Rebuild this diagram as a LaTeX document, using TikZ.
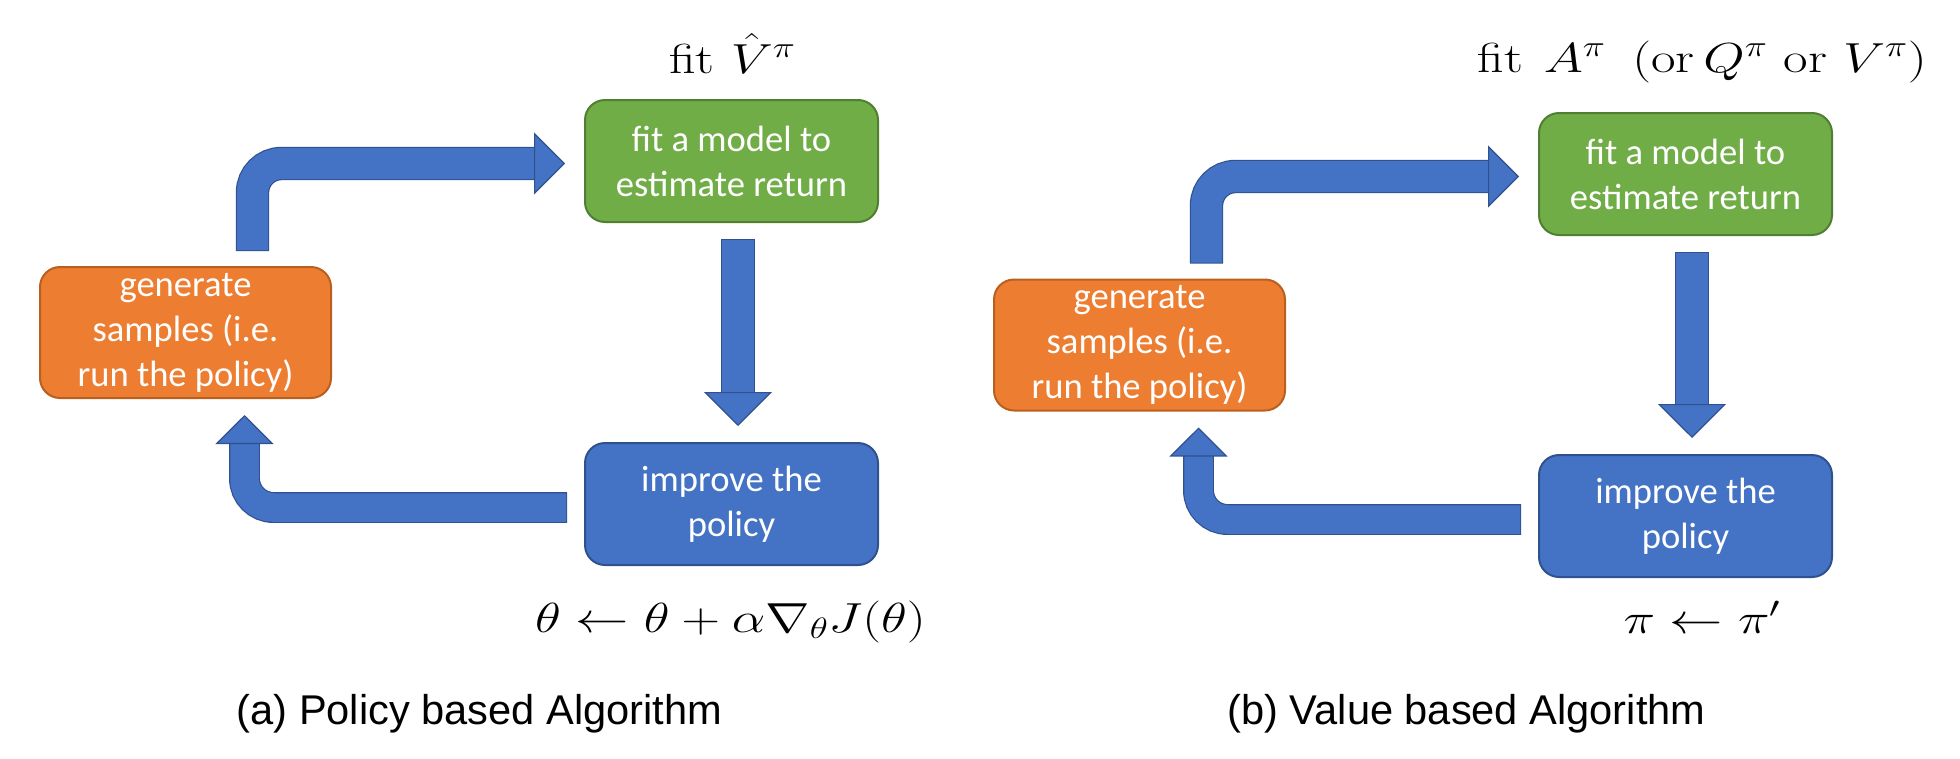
\RequirePackage{fix-cm}
\documentclass[tikz,border=0pt]{standalone}
\usepackage{amsmath}
\usepackage{fontspec}
\usepackage{graphicx}
\usetikzlibrary{arrows.meta,calc}
\newfontfamily\boxfont{Carlito}
\newfontfamily\capfont{Liberation Sans}
\definecolor{arrowblue}{HTML}{4472C4}
\definecolor{arrowborder}{HTML}{2F528F}
\definecolor{fitgreen}{HTML}{70AD47}
\definecolor{fitgreenborder}{HTML}{507E32}
\definecolor{genorange}{HTML}{ED7D31}
\definecolor{genorangeborder}{HTML}{B8601F}
\newcommand{\mstretch}[1]{\scalebox{1.27}[1]{#1}}
\tikzset{
  box/.style={rectangle, rounded corners=20pt, minimum width=293pt, minimum height=122pt,
    line width=2pt, text=white, align=center, inner sep=0pt,
    font=\boxfont\fontsize{36.6}{45}\selectfont},
  fitbox/.style={box, fill=fitgreen, draw=fitgreenborder},
  genbox/.style={box, fill=genorange, draw=genorangeborder, minimum width=291pt, minimum height=131pt},
  impbox/.style={box, fill=arrowblue, draw=arrowborder},
  mathlbl/.style={inner sep=0pt, font=\fontsize{42}{50}\selectfont},
  caplbl/.style={inner sep=0pt, font=\capfont\fontsize{41.6}{50}\selectfont},
  shaftunder/.style={draw=arrowborder, line width=#1+2.4pt, rounded corners=29pt},
  shaftfill/.style={draw=arrowblue, line width=#1, rounded corners=29pt},
  tipA/.style={-{Triangle[width=62pt,length=31pt,line width=1.2pt,color=arrowborder,fill=arrowblue]}},
  tipB/.style={-{Triangle[width=68pt,length=34pt,line width=1.2pt,color=arrowborder,fill=arrowblue]}},
  tipC/.style={-{Triangle[width=58pt,length=29pt,line width=1.2pt,color=arrowborder,fill=arrowblue]}},
}
\begin{document}
\begin{tikzpicture}[x=1pt,y=-1pt]
\useasboundingbox (0,0) rectangle (1960,758);

% ---------- (a) policy based ----------
\node[fitbox] (fitA) at (731.5,161) {fit a model to\\estimate return};
\node[genbox] (genA) at (185.5,332.5) {generate\\samples (i.e.\\run the policy)};
\node[impbox] (impA) at (731.5,504) {improve the\\policy};

\coordinate (a1s) at ($(genA.north)+(67,-16)$);
\coordinate (a1e) at ($(fitA.west)+(-19,2.5)$);
\draw[shaftunder=31pt, shorten >=30pt, shorten <=-1.2pt] (a1s) |- (a1e);
\draw[shaftfill=31pt, tipA] (a1s) |- (a1e);

\coordinate (a2s) at ($(fitA.south)+(6.5,17)$);
\coordinate (a2e) at ($(impA.north)+(6.5,-16)$);
\draw[shaftunder=32pt, shorten >=33pt, shorten <=-1.2pt] (a2s) -- (a2e);
\draw[shaftfill=32pt, tipB] (a2s) -- (a2e);

\coordinate (a3s) at ($(impA.west)+(-18,3.5)$);
\coordinate (a3e) at ($(genA.south)+(59,16)$);
\draw[shaftunder=28.5pt, shorten >=28pt, shorten <=-1.2pt] (a3s) -| (a3e);
\draw[shaftfill=28.5pt, tipC] (a3s) -| (a3e);

\node[mathlbl, anchor=base] (vhat) at (732.5,73) {\mstretch{$\text{fit}\ \hat V^\pi$}};
\node[mathlbl, anchor=base] (thupd) at (730.5,632) {\mstretch{$\theta \leftarrow \theta + \alpha\nabla_\theta J(\theta)$}};
\node[caplbl, anchor=base] (capA) at (479.5,724) {(a) Policy based Algorithm};

% ---------- (b) value based ----------
\node[fitbox] (fitB) at (1685.5,174) {fit a model to\\estimate return};
\node[genbox] (genB) at (1139.5,345) {generate\\samples (i.e.\\run the policy)};
\node[impbox] (impB) at (1685.5,516) {improve the\\policy};

\coordinate (b1s) at ($(genB.north)+(67,-16)$);
\coordinate (b1e) at ($(fitB.west)+(-19,2.5)$);
\draw[shaftunder=31pt, shorten >=30pt, shorten <=-1.2pt] (b1s) |- (b1e);
\draw[shaftfill=31pt, tipA] (b1s) |- (b1e);

\coordinate (b2s) at ($(fitB.south)+(6.5,17)$);
\coordinate (b2e) at ($(impB.north)+(6.5,-16)$);
\draw[shaftunder=32pt, shorten >=33pt, shorten <=-1.2pt] (b2s) -- (b2e);
\draw[shaftfill=32pt, tipB] (b2s) -- (b2e);

\coordinate (b3s) at ($(impB.west)+(-18,3.5)$);
\coordinate (b3e) at ($(genB.south)+(59,16)$);
\draw[shaftunder=28.5pt, shorten >=28pt, shorten <=-1.2pt] (b3s) -| (b3e);
\draw[shaftfill=28.5pt, tipC] (b3s) -| (b3e);

\node[mathlbl, anchor=base east] (afit) at (1927,72) {\mstretch{$\text{fit}\mkern7mu A^\pi\mkern9mu(\text{or}\,Q^\pi\ \text{or}\ V^\pi)$}};
\node[mathlbl, anchor=base] (piupd) at (1702,633) {\mstretch{$\pi \leftarrow \pi'$}};
\node[caplbl, anchor=base] (capB) at (1466.5,724) {(b) Value based Algorithm};
\end{tikzpicture}
\end{document}
